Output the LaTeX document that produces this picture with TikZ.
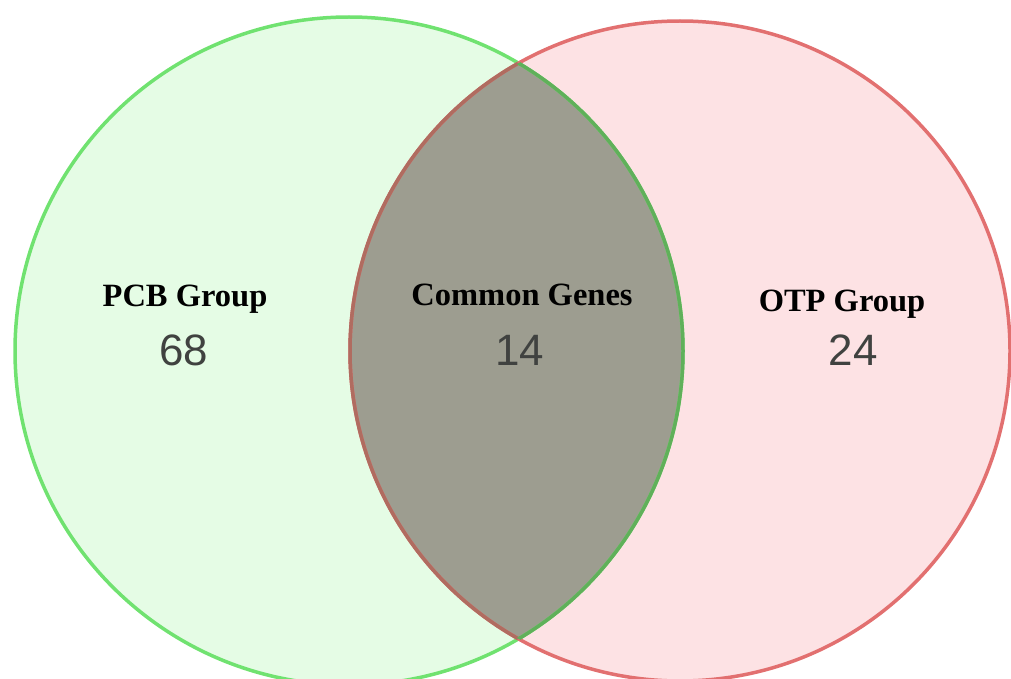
\documentclass[tikz,border=0pt]{standalone}
\usepackage{fontspec}
\setmainfont{Liberation Serif}
\newfontfamily\numfont{Liberation Sans}

\definecolor{pcbedge}{RGB}{112,226,112}
\definecolor{pcbfill}{RGB}{229,252,229}
\definecolor{otpedge}{RGB}{226,112,112}
\definecolor{otpfill}{RGB}{253,226,228}
\definecolor{commfill}{RGB}{157,157,144}
\definecolor{commred}{RGB}{176,108,96}
\definecolor{commgreen}{RGB}{96,176,90}
\definecolor{numc}{RGB}{64,66,64}

\begin{document}
\begin{tikzpicture}[x=0.02cm,y=-0.02cm,
  grplab/.style={font=\fontsize{18.5}{22}\selectfont\bfseries,text=black,inner sep=0pt,anchor=base},
  count/.style={font=\numfont\fontsize{25}{30}\selectfont,text=numc,inner sep=0pt,anchor=base},
  rim/.style={line width=0.07cm}]

  \useasboundingbox (0,0) rectangle (1011,679);

  % ---- sets ----
  \begin{scope}
    \clip (0,0) rectangle (1011,679);
    \fill[pcbfill] (349,351) circle[radius=334];
    \fill[otpfill] (680,351) circle[radius=330];
    % overlap
    \begin{scope}
      \clip (349,351) circle[radius=334];
      \fill[commfill] (680,351) circle[radius=330];
    \end{scope}
    \draw[rim,pcbedge] (349,351) circle[radius=334];
    \draw[rim,otpedge] (680,351) circle[radius=330];
    % rims inside the overlap
    \begin{scope}
      \clip (349,351) circle[radius=334];
      \draw[rim,commred] (680,351) circle[radius=330];
    \end{scope}
    \begin{scope}
      \clip (680,351) circle[radius=330];
      \draw[rim,commgreen] (349,351) circle[radius=334];
    \end{scope}
  \end{scope}

  % ---- labels ----
  \node[grplab] (pcb) at (185,306) {PCB Group};
  \node[grplab] (common) at (522,305) {Common Genes};
  \node[grplab] (otp) at (842,311) {OTP Group};

  \node[count] (pcbn) at (184,365) {68};
  \node[count] (commonn) at (520,365) {14};
  \node[count] (otpn) at (853,365) {24};
\end{tikzpicture}
\end{document}
